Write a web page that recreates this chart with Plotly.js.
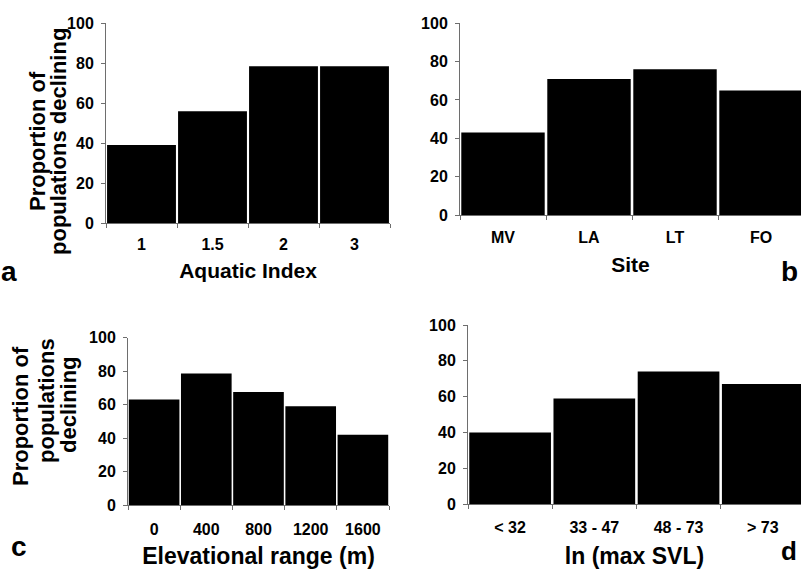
<!DOCTYPE html>
<html>
<head>
<meta charset="utf-8">
<script src="https://cdn.plot.ly/plotly-3.0.1.min.js"></script>
<style>html,body{margin:0;padding:0;background:#fff;}#chart{width:801px;height:569px;}</style>
</head>
<body>
<div id="chart"></div>
<script>
// Data
const aquaticCats = ["1", "1.5", "2", "3"];
const aquaticVals = [39, 56, 78.5, 78.5];
const siteCats = ["MV", "LA", "LT", "FO"];
const siteVals = [43, 71, 76, 65];
const elevCats = ["0", "400", "800", "1200", "1600"];
const elevVals = [63, 78.5, 67.5, 59, 42];
const svlCats = ["< 32", "33 - 47", "48 - 73", "> 73"];
const svlVals = [40, 59, 74, 67];
const yTickVals = [0, 20, 40, 60, 80, 100];

const W = 801, H = 569;
const px = x => x / W;
const py = y => (H - y) / H;
const FONT = "Liberation Sans, Arial, sans-serif";
const AX = "#6e6e6e";

function bar(x, y, xa, ya) {
  return {type: "bar", x: x, y: y, xaxis: xa, yaxis: ya,
    marker: {color: "#000", line: {width: 0}}, hoverinfo: "x+y", showlegend: false};
}
function xax(dom, range, title, lblStand, standoff, tsize) {
  return {domain: dom, range: range, type: "category", showline: true, linecolor: AX, linewidth: 1,
    ticks: "outside", tickson: "boundaries", ticklen: 4, tickcolor: AX, showgrid: false, zeroline: false,
    ticklabelstandoff: lblStand,
    tickfont: {family: FONT, size: 16, color: "#000", weight: "bold"},
    title: {text: title, font: {family: FONT, size: tsize, color: "#000", weight: "bold"}, standoff: standoff},
    fixedrange: true, automargin: false};
}
function yax(dom, anchor) {
  return {domain: dom, range: [0, 100], anchor: anchor, showline: true, linecolor: AX, linewidth: 1,
    tickvals: yTickVals, ticks: "outside", ticklen: 4, tickcolor: AX, showgrid: false, zeroline: false,
    ticklabelstandoff: 4,
    tickfont: {family: FONT, size: 16, color: "#000", weight: "bold"}, fixedrange: true, automargin: false};
}
function ann(text, x, y, size, angle) {
  return {text: text, xref: "paper", yref: "paper", x: px(x), y: py(y), xanchor: "center", yanchor: "middle",
    showarrow: false, textangle: angle || 0, font: {family: FONT, size: size, color: "#000", weight: "bold"}};
}

const data = [
  bar(aquaticCats, aquaticVals, "x", "y"),
  bar(siteCats, siteVals, "x2", "y2"),
  bar(elevCats, elevVals, "x3", "y3"),
  bar(svlCats, svlVals, "x4", "y4")
];

const layout = {
  width: W, height: H, margin: {l: 0, r: 0, t: 0, b: 0, pad: 0},
  paper_bgcolor: "#fff", plot_bgcolor: "#fff", bargap: 0.03, showlegend: false,
  xaxis: Object.assign(xax([px(106), px(390)], [-0.5, 3.5], "Aquatic Index", 7, 11, 21), {anchor: "y"}),
  yaxis: yax([py(223), py(23.3)], "x"),
  xaxis2: Object.assign(xax([px(460), 1], [-0.5, 3.465], "Site", 8, 12, 21), {anchor: "y2"}),
  yaxis2: yax([py(215), py(23.3)], "x2"),
  xaxis3: Object.assign(xax([px(128), px(389)], [-0.5, 4.5], "Elevational range (m)", 10, 10, 23), {anchor: "y3"}),
  yaxis3: yax([py(505), py(337.5)], "x3"),
  xaxis4: Object.assign(xax([px(468), 1], [-0.5, 3.454], "ln (max SVL)", 9, 13, 23), {anchor: "y4"}),
  yaxis4: yax([py(504), py(325)], "x4"),
  annotations: [
    ann("Proportion of", 37, 141, 22, -90),
    ann("populations declining", 58, 142, 22, -90),
    ann("Proportion of", 20, 416, 22, -90),
    ann("populations", 46, 401, 22, -90),
    ann("declining", 68, 405, 22, -90),
    ann("a", 9, 271, 28),
    ann("b", 789, 271, 28),
    ann("c", 19, 546, 28),
    ann("d", 789, 551, 26)
  ]
};

Plotly.newPlot("chart", data, layout, {displayModeBar: false, staticPlot: true});
</script>
</body>
</html>
